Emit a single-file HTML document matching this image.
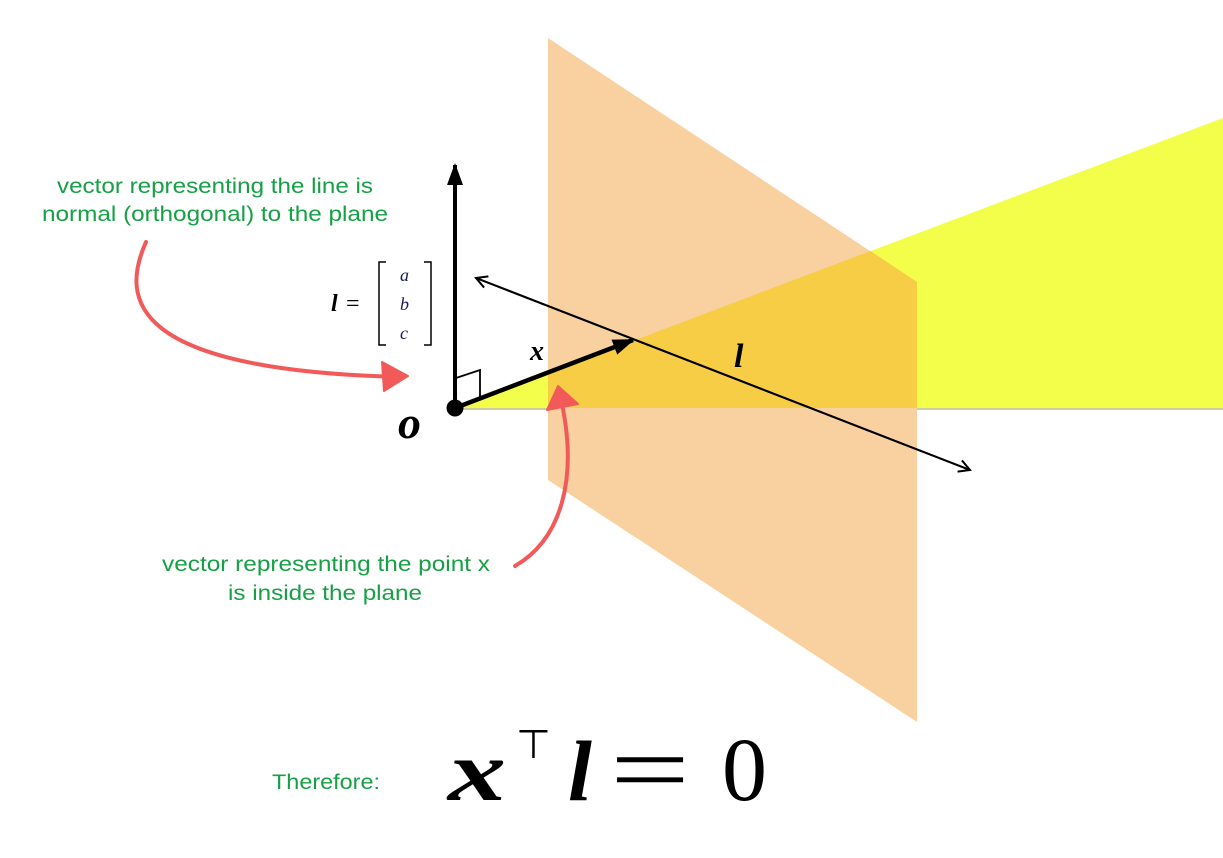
<!DOCTYPE html>
<html><head><meta charset="utf-8"><style>
html,body{margin:0;padding:0;background:#fff;}
svg{display:block;}
.g{font-family:"Liberation Sans",sans-serif;font-size:21px;fill:#16a046;}
.m{font-family:"Liberation Serif",serif;font-style:italic;}
</style></head><body>
<svg width="1223" height="858" viewBox="0 0 1223 858" xmlns="http://www.w3.org/2000/svg">
<defs>
<marker id="open" markerWidth="14" markerHeight="14" refX="12" refY="7" orient="auto" markerUnits="userSpaceOnUse">
<path d="M1,1 L12,7 L1,13" fill="none" stroke="#000" stroke-width="2"/></marker>
<marker id="fill" markerWidth="24" markerHeight="20" refX="20" refY="10" orient="auto" markerUnits="userSpaceOnUse">
<path d="M0,2 L22,10 L0,18 Z" fill="#000"/></marker>
</defs>
<polygon points="455,408 1223,118 1223,408" fill="#f3fe4a"/>
<line x1="455" y1="409" x2="1223" y2="409" stroke="#bdbd80" stroke-width="1.5"/>
<polygon points="548,38 917,282 917,722 548,480" fill="#f9d1a1"/>
<polygon points="548,373 870.5,251 917,282 917,408 548,408" fill="#f6cd44"/>
<line x1="455" y1="408" x2="455" y2="165" stroke="#000" stroke-width="4" marker-end="url(#fill)"/>
<polyline points="456,378 480,370 480,398" fill="none" stroke="#000" stroke-width="1.8"/>
<line x1="455" y1="408" x2="633" y2="340" stroke="#000" stroke-width="4.5" marker-end="url(#fill)"/>
<line x1="476" y1="278" x2="970" y2="470" stroke="#000" stroke-width="2" marker-end="url(#open)"/>
<line x1="970" y1="470" x2="476" y2="278" stroke="#000" stroke-width="2" marker-end="url(#open)"/>
<circle cx="455" cy="408" r="8.5" fill="#000"/>
<text x="398" y="438" class="m" font-size="46" font-weight="bold">o</text>
<text x="530" y="360" class="m" font-size="28" font-weight="bold">x</text>
<text x="734" y="367" class="m" font-size="34" font-weight="bold">l</text>
<text x="331" y="311" class="m" font-size="24" font-weight="bold">l</text>
<text x="346" y="311" font-family="Liberation Serif,serif" font-size="24">=</text>
<path d="M386,262 L379,262 L379,345 L386,345 M424,262 L431,262 L431,345 L424,345" fill="none" stroke="#000" stroke-width="1.5"/>
<text x="400" y="281" class="m" font-size="18" fill="#1a1a5a">a</text>
<text x="400" y="310" class="m" font-size="18" fill="#1a1a5a">b</text>
<text x="400" y="339" class="m" font-size="18" fill="#1a1a5a">c</text>
<text x="57" y="193" class="g" textLength="316" lengthAdjust="spacingAndGlyphs">vector representing the line is</text>
<text x="42" y="221" class="g" textLength="346" lengthAdjust="spacingAndGlyphs">normal (orthogonal) to the plane</text>
<text x="162" y="571" class="g" textLength="328" lengthAdjust="spacingAndGlyphs">vector representing the point x</text>
<text x="228" y="600" class="g" textLength="194" lengthAdjust="spacingAndGlyphs">is inside the plane</text>
<text x="272" y="789" class="g" textLength="108" lengthAdjust="spacingAndGlyphs">Therefore:</text>
<path d="M146,242 C120,300 130,370 400,377" fill="none" stroke="#f25a5a" stroke-width="4" stroke-linecap="round"/>
<path d="M382,362 L408,376 L384,391 Z" fill="#f25a5a" stroke="#f25a5a" stroke-width="2" stroke-linejoin="round"/>
<path d="M515,566 C560,540 580,480 560,395" fill="none" stroke="#f25a5a" stroke-width="4" stroke-linecap="round"/>
<path d="M547,410 L558,386 L578,404 Z" fill="#f25a5a" stroke="#f25a5a" stroke-width="2" stroke-linejoin="round"/>
<text x="448" y="800" class="m" font-size="86" font-weight="bold" textLength="58" lengthAdjust="spacingAndGlyphs">x</text>
<text x="516" y="758" font-family="DejaVu Sans,sans-serif" font-size="40">⊤</text>
<text x="568" y="800" class="m" font-size="86" font-weight="bold">l</text>
<text x="610" y="803" font-family="Liberation Serif,serif" font-size="100" textLength="80" lengthAdjust="spacingAndGlyphs">=</text>
<text x="722" y="800" font-family="Liberation Serif,serif" font-size="90">0</text>
</svg>
</body></html>
